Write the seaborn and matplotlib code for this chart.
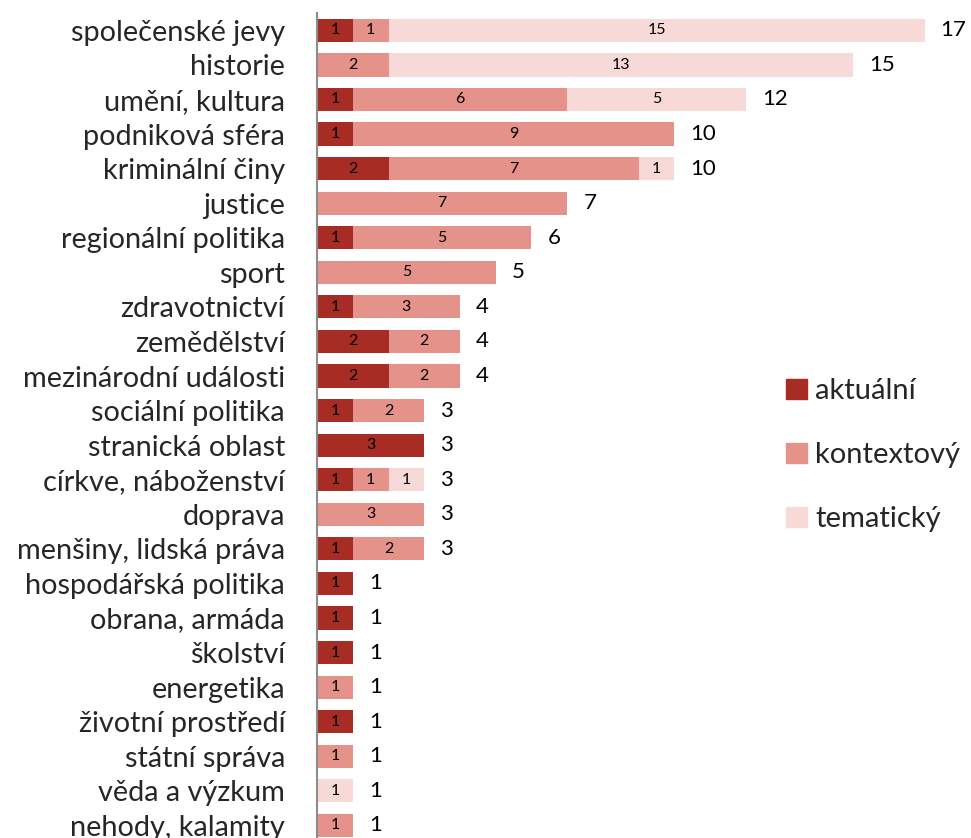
import numpy as np
import pandas as pd
import seaborn as sns
import matplotlib.pyplot as plt
from matplotlib.patches import Patch

# data
categories = [
    "společenské jevy", "historie", "umění, kultura", "podniková sféra",
    "kriminální činy", "justice", "regionální politika", "sport",
    "zdravotnictví", "zemědělství", "mezinárodní události", "sociální politika",
    "stranická oblast", "církve, náboženství", "doprava", "menšiny, lidská práva",
    "hospodářská politika", "obrana, armáda", "školství", "energetika",
    "životní prostředí", "státní správa", "věda a výzkum", "nehody, kalamity",
]
aktualni = [1, 0, 1, 1, 2, 0, 1, 0, 1, 2, 2, 1, 3, 1, 0, 1, 1, 1, 1, 0, 1, 0, 0, 0]
kontextovy = [1, 2, 6, 9, 7, 7, 5, 5, 3, 2, 2, 2, 0, 1, 3, 2, 0, 0, 0, 1, 0, 1, 0, 1]
tematicky = [15, 13, 5, 0, 1, 0, 0, 0, 0, 0, 0, 0, 0, 1, 0, 0, 0, 0, 0, 0, 0, 0, 1, 0]
series_names = ["aktuální", "kontextový", "tematický"]

c_akt = "#A62C24"
c_kon = "#E5928A"
c_tem = "#F7DAD7"

sns.set_style("white")
plt.rcParams['font.family'] = ['Lato', 'DejaVu Sans']

df = pd.DataFrame({
    'kategorie': categories,
    'aktualni': aktualni,
    'kontextovy': kontextovy,
    'tematicky': tematicky,
})
df['akt_kont'] = df['aktualni'] + df['kontextovy']
df['total'] = df['akt_kont'] + df['tematicky']

fig = plt.figure(figsize=(9.71, 8.38), dpi=100)
ax = fig.add_axes([0.3265, -0.0056, 0.6625, 0.990])

# stacked bars drawn as overlays of cumulative sums
for col, c in [('total', c_tem), ('akt_kont', c_kon), ('aktualni', c_akt)]:
    sns.barplot(data=df, x=col, y='kategorie', color=c, width=0.67,
                orient='h', saturation=1, ax=ax, linewidth=0)

# segment labels and totals
for i, row in df.iterrows():
    left = 0
    for v in [row['aktualni'], row['kontextovy'], row['tematicky']]:
        if v > 0:
            ax.text(left + v / 2, i, str(v), ha='center', va='center',
                    fontsize=11.5, color='black')
        left += v
    ax.text(row['total'] + 0.45, i, str(row['total']), ha='left', va='center',
            fontsize=16, color='black')

n = len(categories)
ax.set_xlim(0, 18)
ax.set_ylim(n - 0.5, -0.5)
ax.xaxis.set_visible(False)
ax.set_ylabel("")
for s in ['top', 'right', 'bottom']:
    ax.spines[s].set_visible(False)
ax.spines['left'].set_color('#8c8c8c')
ax.spines['left'].set_linewidth(1.5)

ax.set_yticks(np.arange(-0.5, n), minor=True)
ax.tick_params(axis='y', which='major', length=0, labelsize=20.8, pad=23)
ax.tick_params(axis='y', which='minor', length=9, width=1.5, color='#8c8c8c')

handles = [Patch(color=c) for c in [c_akt, c_kon, c_tem]]
fig.legend(handles, series_names, loc='upper left',
           bbox_to_anchor=(760 / 971, 1 - 352 / 838), frameon=False,
           fontsize=21, handlelength=0.7, handleheight=0.7,
           handletextpad=0.3, labelspacing=1.3)

fig.savefig("out.png", dpi=100)
